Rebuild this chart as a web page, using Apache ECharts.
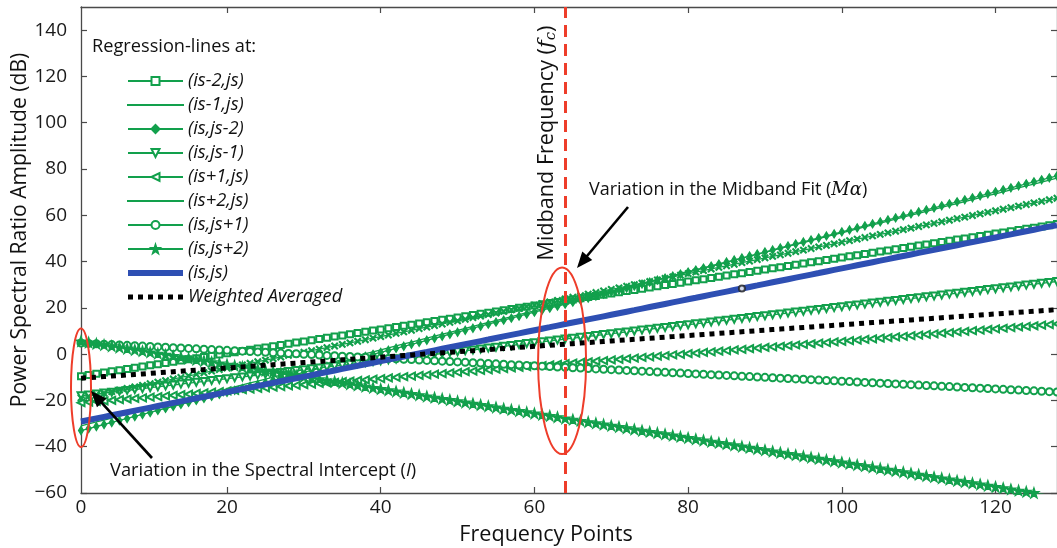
<!DOCTYPE html>
<html>
<head>
<meta charset="utf-8">
<script src="https://cdn.jsdelivr.net/npm/echarts@6/dist/echarts.min.js"></script>
<style>
  html, body { margin: 0; padding: 0; background: #ffffff; }
  #chart { width: 1057px; height: 548px; }
</style>
</head>
<body>
<div id="chart"></div>
<script>
// Regression lines of the power spectral ratio, one per neighbouring window position
const seriesNames = ['(is-2,js)', '(is-1,js)', '(is,js-2)', '(is,js-1)', '(is+1,js)',
                     '(is+2,js)', '(is,js+1)', '(is,js+2)', '(is,js)', 'Weighted Averaged'];
// Spectral intercept I: fitted amplitude (dB) at the first frequency point
const spectralIntercept = [-9.5, -31.0, -33.0, -18.0, -21.0, -18.9, 4.8, 5.6, -29.1, -10.4];
// Midband fit M: fitted amplitude (dB) at the midband frequency fc
const midbandFit = [23.1, 22.1, 21.6, 6.5, -4.1, 23.9, -5.7, -27.7, 13.0, 4.3];
const firstPoint = 1;
const lastPoint = 128;
const midbandFrequency = 64;
const xTickValues = [1, 20, 40, 60, 80, 100, 120];
const xTickLabels = ['0', '20', '40', '60', '80', '100', '120'];
const yTickValues = [-60, -40, -20, 0, 20, 40, 60, 80, 100, 120, 140];
const markedPoint = 87;   // small circle drawn on the (is,js) line

const FONT = 'Open Sans';
const GREEN = '#12a04c';
const BLUE = '#2e4fb3';
const RED = '#ee3d2a';

const freqPoints = [];
for (let k = firstPoint; k <= lastPoint; k++) freqPoints.push(k);

function fitValue(i, f) {
  const slope = (midbandFit[i] - spectralIntercept[i]) / (midbandFrequency - firstPoint);
  return spectralIntercept[i] + slope * (f - firstPoint);
}
function regressionLine(i) {
  return freqPoints.map(f => [f, +fitValue(i, f).toFixed(3)]);
}

const STAR = 'path://M0,-10L2.35,-3.24L9.51,-3.09L3.8,1.24L5.88,8.09L0,4L-5.88,8.09L-3.8,1.24L-9.51,-3.09L-2.35,-3.24Z';
const CROSS = 'path://M0,1L1,0L5,4L9,0L10,1L6,5L10,9L9,10L5,6L1,10L0,9L4,5Z';
const PLAIN_ICON = 'path://M0,0H55V0.2H0Z';
const THICK_ICON = 'path://M0,0H55V6H0Z';
const DOT_ICON = 'path://M0,0h5v5h-5zM10,0h5v5h-5zM20,0h5v5h-5zM30,0h5v5h-5zM40,0h5v5h-5zM50,0h5v5h-5z';

// marker look of each regression line
const looks = [
  { symbol: 'emptyRect', size: 6 },
  { symbol: 'none' },
  { symbol: 'diamond', size: [5, 8] },
  { symbol: 'emptyTriangle', size: 7, rotate: 180 },
  { symbol: 'emptyTriangle', size: 7, rotate: 90 },
  { symbol: CROSS, size: 6 },
  { symbol: 'emptyCircle', size: 7 },
  { symbol: STAR, size: 10 }
];

const series = [];
for (let i = 0; i < 8; i++) {
  const lk = looks[i];
  series.push({
    name: seriesNames[i],
    type: 'line',
    data: regressionLine(i),
    symbol: lk.symbol,
    symbolSize: lk.size || 4,
    symbolRotate: lk.rotate || 0,
    showSymbol: lk.symbol !== 'none',
    showAllSymbol: true,
    animation: false,
    z: 2,
    color: GREEN,
    lineStyle: { color: GREEN, width: 1.3 },
    itemStyle: { color: GREEN, borderColor: GREEN, borderWidth: 1.3 },
    emphasis: { disabled: true }
  });
}
series[0].markLine = {
  silent: true,
  symbol: 'none',
  label: { show: false },
  lineStyle: { color: RED, width: 3, type: [12, 7] },
  data: [{ xAxis: midbandFrequency }],
  z: 6
};
series.push({
  name: seriesNames[8], type: 'line', data: regressionLine(8),
  showSymbol: false, animation: false, z: 3, color: BLUE,
  lineStyle: { color: BLUE, width: 6 }, itemStyle: { borderWidth: 0 }, emphasis: { disabled: true }
});
series.push({
  name: seriesNames[9], type: 'line', data: regressionLine(9),
  showSymbol: false, animation: false, z: 4, color: '#000',
  lineStyle: { color: '#000', width: 5, type: [5, 5], cap: 'butt' }, itemStyle: { borderWidth: 0 }, emphasis: { disabled: true }
});
series.push({
  name: 'marked', type: 'scatter', data: [[markedPoint, +fitValue(8, markedPoint).toFixed(3)]],
  symbol: 'emptyCircle', symbolSize: 6, z: 5, animation: false,
  itemStyle: { color: '#222', borderColor: '#222', borderWidth: 1.2 }
});

const legendIcons = {
  '(is-1,js)': PLAIN_ICON, '(is+2,js)': PLAIN_ICON,
  '(is,js)': THICK_ICON, 'Weighted Averaged': DOT_ICON
};

const axisColor = '#4a4a4a';
const minus = v => String(v).replace('-', '\u2212');
const frameLine = { show: true, onZero: false, lineStyle: { color: axisColor, width: 1.3 } };

const chart = echarts.init(document.getElementById('chart'), null, { renderer: 'canvas' });
const option = {
  backgroundColor: '#ffffff',
  animation: false,
  textStyle: { fontFamily: FONT },
  grid: { left: 81, right: -4, top: 7, bottom: 55, containLabel: false },
  legend: {
    orient: 'vertical', left: 127, top: 69, padding: 0, itemGap: 0,
    itemWidth: 55, itemHeight: 10, selectedMode: false,
    textStyle: { fontFamily: FONT, fontSize: 18.3, fontStyle: 'italic', color: '#111', lineHeight: 24 },
    data: seriesNames.map(n => legendIcons[n] ? { name: n, icon: legendIcons[n] } : { name: n })
  },
  xAxis: [{
    type: 'value', min: firstPoint, max: lastPoint, position: 'bottom',
    axisLine: frameLine,
    axisTick: { show: true, inside: true, length: 6, customValues: xTickValues.slice(1), lineStyle: { color: axisColor, width: 1.2 } },
    axisLabel: {
      customValues: xTickValues, margin: 5, fontSize: 19, color: '#1a1a1a', fontFamily: FONT,
      formatter: v => xTickLabels[xTickValues.indexOf(v)]
    },
    splitLine: { show: false }
  }, {
    type: 'value', min: firstPoint, max: lastPoint, position: 'top',
    axisLine: frameLine,
    axisTick: { show: true, inside: true, length: 6, customValues: xTickValues.slice(1), lineStyle: { color: axisColor, width: 1.2 } },
    axisLabel: { show: false }, splitLine: { show: false }
  }],
  yAxis: [{
    type: 'value', min: -60, max: 150, interval: 20, position: 'left',
    axisLine: frameLine,
    axisTick: { show: true, inside: true, length: 6, customValues: yTickValues, lineStyle: { color: axisColor, width: 1.2 } },
    axisLabel: { customValues: yTickValues, margin: 14, fontSize: 19, color: '#1a1a1a', fontFamily: FONT, formatter: minus },
    splitLine: { show: false }
  }, {
    type: 'value', min: -60, max: 150, interval: 20, position: 'right',
    axisLine: frameLine,
    axisTick: { show: true, inside: true, length: 6, customValues: yTickValues, lineStyle: { color: axisColor, width: 1.2 } },
    axisLabel: { show: false }, splitLine: { show: false }
  }],
  series: series
};
chart.setOption(option);

// annotations: ellipses tied to the fitted values, arrows and captions
function px(x, y) { return chart.convertToPixel({ xAxisIndex: 0, yAxisIndex: 0 }, [x, y]); }
const pxPerY = px(1, 0)[1] - px(1, 1)[1];

const midVals = midbandFit.slice(0, 9);
const midHi = Math.max(...midVals), midLo = Math.min(...midVals);
const midC = px(midbandFrequency - 0.4, (midHi + midLo) / 2 - 1);
const intVals = spectralIntercept.slice(0, 9);
const intHi = Math.max(...intVals), intLo = Math.min(...intVals);
const intC = px(firstPoint, (intHi + intLo) / 2 - 0.8);
const intRy = ((intHi - intLo) / 2 + 6.3) * pxPerY;

function arrow(tail, tip) {
  const dx = tip[0] - tail[0], dy = tip[1] - tail[1];
  const len = Math.hypot(dx, dy), ux = dx / len, uy = dy / len;
  const hl = 16, hw = 6.5;
  const bx = tip[0] - ux * hl, by = tip[1] - uy * hl;
  return [
    { type: 'polyline', z: 20, shape: { points: [tail, [bx + ux * 2, by + uy * 2]] }, style: { stroke: '#000', lineWidth: 2.6, fill: null } },
    { type: 'polygon', z: 20, shape: { points: [tip, [bx - uy * hw, by + ux * hw], [bx + uy * hw, by - ux * hw]] }, style: { fill: '#000' } }
  ];
}

chart.setOption({
  graphic: [
    { type: 'ellipse', z: 20, shape: { cx: midC[0], cy: midC[1], rx: 24, ry: ((midHi - midLo) / 2 + 14.5) * pxPerY },
      style: { fill: null, stroke: RED, lineWidth: 2 } },
    { type: 'ellipse', z: 20, shape: { cx: intC[0], cy: intC[1], rx: 10, ry: intRy },
      style: { fill: null, stroke: RED, lineWidth: 2 } },
    ...arrow([628, 207], [577, 268]),
    ...arrow([152, 458], [91, 391]),
    { type: 'text', z: 20, x: 92, y: 47,
      style: { text: 'Regression-lines at:', fontFamily: FONT, fontSize: 18.2, fill: '#111', verticalAlign: 'middle' } },
    { type: 'text', z: 20, x: 589, y: 190,
      style: { text: '{a|Variation in the Midband Fit (}{b|M\u03b1}{a|)}', verticalAlign: 'middle',
        rich: { a: { fontFamily: FONT, fontSize: 18, fill: '#111' },
                b: { fontFamily: 'DejaVu Serif', fontSize: 18, fontStyle: 'italic', fill: '#111' } } } },
    { type: 'text', z: 20, x: 110, y: 471,
      style: { text: '{a|Variation in the Spectral Intercept (}{b|I}{a|)}', verticalAlign: 'middle',
        rich: { a: { fontFamily: FONT, fontSize: 18.3, fill: '#111' },
                b: { fontFamily: FONT, fontSize: 18.3, fontStyle: 'italic', fill: '#111' } } } },
    { type: 'text', z: 20, x: 547, y: 143, rotation: Math.PI / 2,
      style: { text: '{a|Midband Frequency (}{b|f}{c|c}{a|)}', align: 'center', verticalAlign: 'middle',
        rich: { a: { fontFamily: FONT, fontSize: 21.6, fill: '#111' },
                b: { fontFamily: 'DejaVu Serif', fontSize: 21, fontStyle: 'italic', fill: '#111' },
                c: { fontFamily: 'DejaVu Serif', fontSize: 15, fontStyle: 'italic', fill: '#111', padding: [8, 0, 0, 0] } } } },
    { type: 'text', z: 20, x: 20, y: 230, rotation: Math.PI / 2,
      style: { text: 'Power Spectral Ratio Amplitude (dB)', fontFamily: FONT, fontSize: 21.1, fill: '#111', align: 'center', verticalAlign: 'middle' } },
    { type: 'text', z: 20, x: 546, y: 535,
      style: { text: 'Frequency Points', fontFamily: FONT, fontSize: 21.6, fill: '#111', align: 'center', verticalAlign: 'middle' } }
  ]
});
</script>
</body>
</html>
